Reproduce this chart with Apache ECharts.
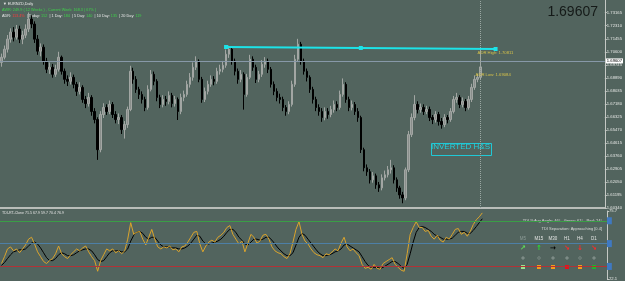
<!DOCTYPE html>
<html>
<head>
<meta charset="utf-8">
<script src="https://cdn.jsdelivr.net/npm/echarts@6/dist/echarts.min.js"></script>
<style>
html,body{margin:0;padding:0;background:#52645e;}
#chart{width:625px;height:281px;}
</style>
</head>
<body>
<div id="chart"></div>
<script>
// EURNZD daily - candles as [open, close, low, high]
var candles = [
[1.6990,1.7024,1.6962,1.7048],[1.7024,1.7077,1.7010,1.7101],[1.7077,1.7143,1.7055,1.7170],[1.7143,1.7189,1.7120,1.7214],
[1.7189,1.7156,1.7128,1.7222],[1.7156,1.7209,1.7140,1.7236],[1.7209,1.7143,1.7117,1.7231],[1.7143,1.7169,1.7110,1.7198],
[1.7169,1.7209,1.7150,1.7240],[1.7209,1.7275,1.7190,1.7318],[1.7275,1.7242,1.7215,1.7300],[1.7242,1.7143,1.7118,1.7260],
[1.7143,1.7064,1.7040,1.7170],[1.7064,1.7090,1.7030,1.7115],[1.7090,1.6998,1.6975,1.7108],[1.6998,1.6945,1.6920,1.7020],
[1.6945,1.6958,1.6915,1.6990],[1.6958,1.6912,1.6890,1.6980],[1.6912,1.6945,1.6895,1.6975],[1.6945,1.7024,1.6930,1.7060],
[1.7024,1.6932,1.6910,1.7035],[1.6932,1.6879,1.6850,1.6950],[1.6879,1.6866,1.6835,1.6905],[1.6866,1.6892,1.6845,1.6925],
[1.6892,1.6846,1.6820,1.6910],[1.6846,1.6800,1.6770,1.6862],[1.6800,1.6826,1.6780,1.6860],[1.6826,1.6747,1.6725,1.6840],
[1.6747,1.6720,1.6690,1.6770],[1.6720,1.6760,1.6700,1.6790],[1.6760,1.6668,1.6640,1.6775],[1.6668,1.6615,1.6590,1.6690],
[1.6615,1.6417,1.6350,1.6630],[1.6417,1.6648,1.6400,1.6670],[1.6648,1.6694,1.6625,1.6722],[1.6694,1.6668,1.6645,1.6715],
[1.6668,1.6714,1.6650,1.6740],[1.6714,1.6648,1.6625,1.6730],[1.6648,1.6615,1.6590,1.6670],[1.6615,1.6628,1.6585,1.6655],
[1.6628,1.6549,1.6520,1.6645],[1.6549,1.6582,1.6490,1.6605],[1.6582,1.6681,1.6560,1.6700],[1.6681,1.6932,1.6670,1.6968],
[1.6932,1.6879,1.6850,1.6955],[1.6879,1.6813,1.6790,1.6900],[1.6813,1.6780,1.6750,1.6830],[1.6780,1.6747,1.6720,1.6800],
[1.6747,1.6694,1.6670,1.6765],[1.6694,1.6813,1.6680,1.6840],[1.6813,1.6912,1.6800,1.6940],[1.6912,1.6866,1.6840,1.6930],
[1.6866,1.6760,1.6735,1.6880],[1.6760,1.6714,1.6690,1.6778],[1.6714,1.6747,1.6695,1.6775],[1.6747,1.6734,1.6705,1.6770],
[1.6734,1.6773,1.6715,1.6800],[1.6773,1.6720,1.6695,1.6790],[1.6720,1.6747,1.6700,1.6770],[1.6747,1.6668,1.6612,1.6760],
[1.6668,1.6760,1.6650,1.6785],[1.6760,1.6780,1.6735,1.6805],[1.6780,1.6846,1.6765,1.6870],[1.6846,1.6892,1.6825,1.6920],
[1.6892,1.6958,1.6870,1.6990],[1.6958,1.6998,1.6940,1.7030],[1.6998,1.6879,1.6860,1.7010],[1.6879,1.6747,1.6725,1.6895],
[1.6747,1.6800,1.6730,1.6825],[1.6800,1.6846,1.6780,1.6870],[1.6846,1.6879,1.6830,1.6905],[1.6879,1.6866,1.6840,1.6900],
[1.6866,1.6932,1.6850,1.6955],[1.6932,1.6945,1.6910,1.6975],[1.6945,1.6971,1.6925,1.7000],[1.6971,1.7044,1.6955,1.7075],
[1.7044,1.7077,1.7020,1.7100],[1.7077,1.6998,1.6975,1.7090],[1.6998,1.6932,1.6905,1.7015],[1.6932,1.6879,1.6850,1.6950],
[1.6879,1.6912,1.6860,1.6940],[1.6912,1.6780,1.6680,1.6925],[1.6780,1.6892,1.6765,1.6915],[1.6892,1.7011,1.6880,1.7040],
[1.7011,1.6958,1.6935,1.7030],[1.6958,1.6879,1.6855,1.6975],[1.6879,1.6912,1.6860,1.6935],[1.6912,1.6978,1.6895,1.7005],
[1.6978,1.6998,1.6955,1.7025],[1.6998,1.6945,1.6920,1.7015],[1.6945,1.6846,1.6825,1.6960],[1.6846,1.6800,1.6775,1.6865],
[1.6800,1.6760,1.6735,1.6820],[1.6760,1.6747,1.6720,1.6785],[1.6747,1.6694,1.6670,1.6765],[1.6694,1.6668,1.6640,1.6710],
[1.6668,1.6714,1.6650,1.6735],[1.6714,1.6846,1.6700,1.6870],[1.6846,1.7011,1.6830,1.7040],[1.7011,1.7110,1.6995,1.7145],
[1.7110,1.6998,1.6975,1.7125],[1.6998,1.6932,1.6910,1.7015],[1.6932,1.6892,1.6865,1.6950],[1.6892,1.6813,1.6790,1.6905],
[1.6813,1.6747,1.6720,1.6830],[1.6747,1.6694,1.6670,1.6765],[1.6694,1.6668,1.6640,1.6715],[1.6668,1.6628,1.6600,1.6690],
[1.6628,1.6668,1.6610,1.6695],[1.6668,1.6648,1.6620,1.6690],[1.6648,1.6681,1.6630,1.6705],[1.6681,1.6714,1.6660,1.6740],
[1.6714,1.6694,1.6670,1.6735],[1.6694,1.6780,1.6680,1.6805],[1.6780,1.6846,1.6765,1.6885],[1.6846,1.6747,1.6725,1.6860],
[1.6747,1.6694,1.6670,1.6765],[1.6694,1.6714,1.6675,1.6740],[1.6714,1.6668,1.6645,1.6730],[1.6668,1.6628,1.6600,1.6690],
[1.6628,1.6417,1.6395,1.6640],[1.6417,1.6298,1.6275,1.6430],[1.6298,1.6272,1.6245,1.6320],[1.6272,1.6219,1.6195,1.6290],
[1.6219,1.6245,1.6200,1.6270],[1.6245,1.6186,1.6160,1.6260],[1.6186,1.6166,1.6140,1.6205],[1.6166,1.6232,1.6150,1.6255],
[1.6232,1.6252,1.6215,1.6280],[1.6252,1.6285,1.6235,1.6310],[1.6285,1.6298,1.6260,1.6350],[1.6298,1.6219,1.6195,1.6315],
[1.6219,1.6166,1.6140,1.6235],[1.6166,1.6120,1.6095,1.6180],[1.6120,1.6100,1.6065,1.6140],[1.6100,1.6285,1.6085,1.6300],
[1.6285,1.6516,1.6270,1.6540],[1.6516,1.6628,1.6500,1.6655],[1.6628,1.6714,1.6610,1.6775],[1.6714,1.6681,1.6655,1.6735],
[1.6681,1.6694,1.6660,1.6720],[1.6694,1.6668,1.6645,1.6715],[1.6668,1.6681,1.6650,1.6705],[1.6681,1.6628,1.6605,1.6700],
[1.6628,1.6615,1.6585,1.6645],[1.6615,1.6648,1.6595,1.6670],[1.6648,1.6602,1.6575,1.6665],[1.6602,1.6582,1.6555,1.6625],
[1.6582,1.6628,1.6565,1.6650],[1.6628,1.6615,1.6590,1.6645],[1.6615,1.6668,1.6600,1.6690],[1.6668,1.6747,1.6655,1.6770],
[1.6747,1.6760,1.6725,1.6790],[1.6760,1.6714,1.6690,1.6775],[1.6714,1.6734,1.6695,1.6760],[1.6734,1.6694,1.6670,1.6750],
[1.6694,1.6747,1.6680,1.6770],[1.6747,1.6826,1.6730,1.6850],[1.6826,1.6879,1.6810,1.6905],[1.6879,1.6892,1.6860,1.6915],
[1.6892,1.69607,1.6880,1.7081]
];

// TDI price line (yellow) and signal line (black)
var tdiPrice = [34.3,39.7,45.8,47.4,44.3,45.8,42.8,45.8,48.9,53.5,
55.0,49.7,43.5,39.7,35.9,34.3,36.6,38.2,42.0,48.1,
42.0,39.7,38.2,41.2,43.5,45.8,44.3,46.6,48.1,43.5,
39.7,36.6,28.2,36.6,41.2,45.8,44.3,45.8,42.8,44.3,
42.0,44.3,53.5,66.5,57.3,58.9,59.6,53.5,48.9,55.0,
61.2,53.5,47.4,45.8,47.4,46.6,48.1,45.1,45.8,43.5,
47.4,48.1,51.2,55.0,58.9,59.6,49.7,43.5,48.1,51.2,
52.7,51.2,55.0,56.6,58.9,62.7,64.2,57.3,53.5,49.7,
52.0,43.5,50.4,57.3,55.0,50.4,52.0,56.6,57.3,53.5,
47.4,44.3,42.8,42.0,39.7,38.2,42.0,51.2,61.2,67.3,
57.3,52.0,49.7,45.8,42.8,41.2,40.5,38.9,42.0,41.2,
43.5,45.8,44.3,50.4,55.0,47.4,44.3,45.8,42.8,40.5,
33.6,30.5,31.3,29.8,33.6,30.5,29.8,34.3,35.9,37.4,
38.9,33.6,31.3,29.0,28.2,42.0,57.3,62.7,67.3,62.7,
62.7,59.6,60.4,55.8,53.5,56.6,52.7,51.2,55.0,53.5,
57.3,61.2,61.9,57.3,58.9,55.8,59.6,65.0,68.8,71.1,
74.2];
var tdiSignal = [32.8,35.1,38.2,41.2,43.5,44.3,45.1,45.1,45.8,48.1,
50.4,51.2,49.7,46.6,42.8,38.9,36.6,36.6,38.2,41.2,
42.8,42.0,40.5,40.5,41.2,42.8,44.3,45.1,45.8,45.8,
44.3,41.2,37.4,35.9,36.6,39.7,42.8,44.3,44.3,44.3,
43.5,43.5,45.8,52.0,56.6,58.9,59.6,58.1,55.0,53.5,
55.0,55.0,52.0,48.9,47.4,47.4,47.4,46.6,46.6,45.8,
45.8,46.6,48.1,50.4,53.5,56.6,55.8,52.0,49.7,49.7,
50.4,51.2,52.0,53.5,55.8,58.9,61.2,61.2,58.9,55.0,
52.7,49.7,48.9,51.2,53.5,53.5,52.7,53.5,55.0,55.0,
52.7,49.7,46.6,44.3,42.0,40.5,40.5,42.8,48.9,55.0,
58.1,56.6,53.5,50.4,47.4,44.3,42.0,40.5,40.5,41.2,
42.0,43.5,44.3,45.8,48.9,49.7,48.1,46.6,45.1,43.5,
39.7,35.9,32.8,31.3,31.3,31.3,30.5,31.3,32.8,34.3,
35.9,35.9,34.3,32.1,30.5,33.6,42.0,51.2,58.9,62.7,
63.4,62.7,61.2,59.6,57.3,55.8,55.0,53.5,53.5,53.5,
54.3,56.6,58.9,59.6,59.6,58.1,58.1,60.4,63.4,66.5,
69.6];

var tdiLevels = [68, 50, 32];
var levelColors = ['#3a9e46', '#4d7fa6', '#b23236'];
var bidPrice = 1.69607;
var adrHigh = 1.70811;
var adrLow = 1.69084;
var trendStart = [75, 1.7091];
var trendEnd = [165, 1.7078];
var trendMid = [120, 1.7085];

// dashboard: timeframes, arrow glyphs, arrow colours, status square colours
var tfNames = ['M5', 'M15', 'M30', 'H1', 'H4', 'D1'];
var tfArrows = ['↗', '↑', '→', '↘', '↓', '↘'];
var tfArrowColors = ['#5fe05a', '#29e02f', '#000000', '#ff2a2a', '#ff2a2a', '#ff2a2a'];
var tfBoxColors = ['#9be28e', '#f59a1a', '#f59a1a', '#e8101a', '#f59a1a', '#1cb82a'];
var tfX = [523, 539, 553, 567, 580, 594];

var totalBars = 202; // includes chart shift on the right
var days = [];
for (var i = 0; i < totalBars; i++) days.push(String(i));

var FONT = 'Liberation Sans';
var last = candles.length - 1;

var myChart = echarts.init(document.getElementById('chart'));

var graphics = [
  {type: 'text', left: 3, top: 2, style: {text: '▼ EURNZD,Daily', fill: '#e8e8e8', font: '3.8px ' + FONT}},
  {type: 'text', left: 2, top: 8, style: {text: 'AWR: 249.9 ( 12 Weeks ) , Current Week: 168.3 ( 67% )', fill: '#3fd04a', font: '3.8px ' + FONT}},
  {type: 'text', left: 2, top: 14, style: {
    text: '{w|ADR:} {r|113.4%}  {w|| Today:} {g|152}  {w|| 1 Day:} {g|184}  {w|| 5 Day:} {g|140}  {w|| 10 Day:} {g|135}  {w|| 20 Day:} {g|119}',
    font: '3.8px ' + FONT,
    rich: {w: {fill: '#e8e8e8', font: '3.8px ' + FONT}, r: {fill: '#ff3a3a', font: '3.8px ' + FONT}, g: {fill: '#3fd04a', font: '3.8px ' + FONT}}}},
  {type: 'text', right: 27, top: 5, style: {text: '1.69607', fill: '#151a18', font: '14px ' + FONT}},
  {type: 'rect', left: 429, top: 141, shape: {width: 60, height: 12},
   style: {fill: 'none', stroke: '#1fc9d6', lineWidth: 1}},
  {type: 'text', left: 431, top: 143, style: {text: 'INVERTED H&S', fill: '#21d2df', font: '8px ' + FONT}},
  {type: 'text', left: 2, top: 211, style: {text: 'TDI-RT-Clone 71.5 67.9 59.7 70.4 76.9', fill: '#e4e4e4', font: '3.6px ' + FONT}},
  {type: 'text', right: 23, top: 219, style: {text: "TDI %Avg Angle: 46°   Green: 61°   Red: 24°", fill: '#d8dad8', font: '4px ' + FONT}},
  {type: 'text', right: 23, top: 227, style: {text: 'TDI Separation: Approaching [0.4]', fill: '#d8dad8', font: '4px ' + FONT}}
];

// dashboard cells, positioned by x/y directly
tfNames.forEach(function(name, k){
  graphics.push({type: 'text', x: tfX[k], y: 239, style: {text: name, fill: k === 0 ? '#8d9c97' : '#e2e4e2',
    font: '4.5px ' + FONT, align: 'center', verticalAlign: 'middle'}});
  graphics.push({type: 'text', x: tfX[k], y: 248, style: {text: tfArrows[k], fill: tfArrowColors[k],
    font: 'bold 7px "DejaVu Sans"', align: 'center', verticalAlign: 'middle'}});
  graphics.push({type: 'circle', shape: {cx: tfX[k], cy: 258, r: 1.3},
    style: {fill: (k === 1 || k === 4) ? 'none' : '#7d8c87', stroke: '#7d8c87', lineWidth: 0.8}});
  graphics.push({type: 'rect', shape: {x: tfX[k] - 2, y: 265, width: 4, height: 4}, style: {fill: tfBoxColors[k]}});
});

var option = {
  backgroundColor: '#52645e',
  animation: false,
  grid: [
    {left: 0, right: 18, top: 0, height: 208},
    {left: 0, right: 18, top: 211, height: 70}
  ],
  xAxis: [
    {type: 'category', gridIndex: 0, data: days, boundaryGap: true,
     axisLine: {show: true, lineStyle: {color: '#b9bdb9', width: 2}},
     axisTick: {show: false}, axisLabel: {show: false}, splitLine: {show: false}},
    {type: 'category', gridIndex: 1, data: days, boundaryGap: true,
     axisLine: {show: false}, axisTick: {show: false}, axisLabel: {show: false}, splitLine: {show: false}}
  ],
  yAxis: [
    {type: 'value', gridIndex: 0, position: 'right', min: 1.6034, max: 1.74, interval: 0.00855,
     axisLine: {show: true, lineStyle: {color: '#c4c8c4'}},
     axisTick: {show: true, length: 2, lineStyle: {color: '#c4c8c4'}},
     splitLine: {show: false},
     axisLabel: {showMaxLabel: false, fontSize: 4.2, color: '#e4e6e4', margin: 2, fontFamily: FONT,
       formatter: function(v){ return v.toFixed(5); }}},
    {type: 'value', gridIndex: 1, position: 'right', min: 22.1, max: 75.7, interval: 53.6,
     axisLine: {show: true, lineStyle: {color: '#c4c8c4'}},
     axisTick: {show: true, length: 2, lineStyle: {color: '#c4c8c4'}},
     splitLine: {show: false},
     axisLabel: {fontSize: 4.2, color: '#e4e6e4', margin: 2, fontFamily: FONT,
       formatter: function(v){ return v.toFixed(1); }}}
  ],
  series: [
    {
      type: 'candlestick', xAxisIndex: 0, yAxisIndex: 0,
      data: candles, barWidth: 2,
      itemStyle: {color: '#8a8f8c', color0: '#000000', borderColor: '#a2a6a3', borderColor0: '#000000', borderWidth: 1},
      markLine: {
        silent: true, symbol: ['none', 'none'],
        data: [
          {yAxis: bidPrice, lineStyle: {color: '#8798a8', width: 1, type: 'solid'},
           label: {show: true, position: 'end', distance: 1, formatter: bidPrice.toFixed(5),
                   color: '#000', backgroundColor: '#ffffff', padding: [1, 1, 0, 1],
                   fontSize: 4.2, fontFamily: FONT}},
          {xAxis: days[last], lineStyle: {color: '#9aa7a2', width: 1, type: 'dotted'}, label: {show: false}},
          [{coord: [days[trendStart[0]], trendStart[1]], symbol: 'rect', symbolSize: 4},
           {coord: [days[trendEnd[0]], trendEnd[1]], symbol: 'rect', symbolSize: 4,
            lineStyle: {color: '#1de3e8', width: 2, type: 'solid'}, label: {show: false}}]
        ]
      },
      markPoint: {
        silent: true,
        data: [
          {coord: [days[trendMid[0]], trendMid[1]], symbol: 'rect', symbolSize: 4,
           itemStyle: {color: '#1de3e8'}, label: {show: false}},
          {coord: [days[last], adrHigh], symbolSize: 0,
           label: {show: true, position: 'right', distance: 0, offset: [-3, 4], formatter: 'ADR High: ' + adrHigh.toFixed(5),
                   color: '#d6c24a', fontSize: 4.2, fontFamily: FONT}},
          {coord: [days[last], adrLow], symbolSize: 0,
           label: {show: true, position: 'right', distance: 0, offset: [-5, 0], formatter: 'ADR Low: ' + adrLow.toFixed(5),
                   color: '#d6c24a', fontSize: 4.2, fontFamily: FONT}}
        ]
      }
    },
    {
      type: 'line', xAxisIndex: 1, yAxisIndex: 1, data: tdiPrice,
      symbol: 'none', lineStyle: {color: '#dba42c', width: 1}, itemStyle: {color: '#dba42c'},
      markLine: {
        silent: true, symbol: ['none', 'none'],
        data: tdiLevels.map(function(lv, k){
          return {yAxis: lv, lineStyle: {color: levelColors[k], width: 1, type: 'solid'},
                  label: {show: true, position: 'end', distance: 0, formatter: ' ',
                          backgroundColor: '#3f79c2', padding: [2, 2], fontSize: 3}};
        })
      },
      z: 3
    },
    {
      type: 'line', xAxisIndex: 1, yAxisIndex: 1, data: tdiSignal,
      symbol: 'none', lineStyle: {color: '#000000', width: 1}, itemStyle: {color: '#000'}, z: 2
    }
  ],
  graphic: graphics
};

myChart.setOption(option);
</script>
</body>
</html>
